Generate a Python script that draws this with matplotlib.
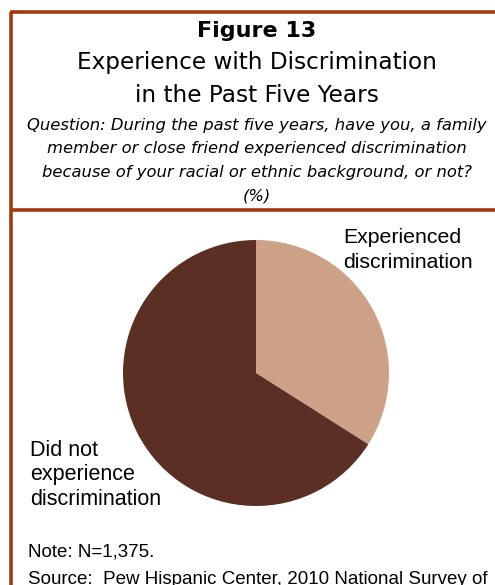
import matplotlib
matplotlib.use("Agg")
import matplotlib.pyplot as plt
from matplotlib.lines import Line2D

plt.rcParams['font.family'] = ['Liberation Sans', 'DejaVu Sans']

# Data
shares = [34, 66]
colors = ["#CDA187", "#5C2F24"]
pct_colors = ["black", "white"]
label_experienced = ["Experienced", "discrimination"]
label_not = ["Did not", "experience", "discrimination"]

title_bold = "Figure 13"
title_lines = ["Experience with Discrimination", "in the Past Five Years"]
question_lines = [
    "Question: During the past five years, have you, a family",
    "member or close friend experienced discrimination",
    "because of your racial or ethnic background, or not?",
    "(%)",
]
note_text = "Note: N=1,375."
source_text = "Source:  Pew Hispanic Center, 2010 National Survey of"

W, H = 495, 585
fig = plt.figure(figsize=(W / 100, H / 100), dpi=100)
fig.patch.set_facecolor("white")

# Overlay axes in pixel coordinates for the frame and text
ov = fig.add_axes([0, 0, 1, 1])
ov.set_xlim(0, W)
ov.set_ylim(H, 0)
ov.axis("off")

border = "#A33A0E"
lw = 2.6
ov.add_line(Line2D([11, 11], [12, H + 5], color=border, lw=lw, solid_capstyle="butt"))
ov.add_line(Line2D([9.5, W + 5], [12, 12], color=border, lw=lw, solid_capstyle="butt"))
ov.add_line(Line2D([9.5, W + 5], [209.5, 209.5], color=border, lw=lw, solid_capstyle="butt"))

head_font = ["DejaVu Sans"]
cx = 257
ov.text(cx, 37, title_bold, fontsize=16, fontweight="bold", family=head_font,
        ha="center", va="baseline")
ov.text(cx, 69.5, title_lines[0], fontsize=16.7, family=head_font,
        ha="center", va="baseline")
ov.text(cx, 101.5, title_lines[1], fontsize=16.7, family=head_font,
        ha="center", va="baseline")
for i, line in enumerate(question_lines):
    ov.text(cx, 130 + i * 23.4, line, fontsize=11.8, fontstyle="italic",
            family=head_font, ha="center", va="baseline")

# Pie
r_px = 133
pcx, pcy = 256, 373
pax = fig.add_axes([(pcx - r_px) / W, 1 - (pcy + r_px) / H, 2 * r_px / W, 2 * r_px / H])
pax.pie(shares, colors=colors, startangle=90, counterclock=False,
        wedgeprops=dict(linewidth=0))
pax.set_xlim(-1, 1)
pax.set_ylim(-1, 1)
pax.set_aspect("equal")
pax.axis("off")

# Percent labels
pct_pos = [(316, 336), (176, 390)]
for v, (x, y), c in zip(shares, pct_pos, pct_colors):
    ov.text(x, y, f"{v}%", fontsize=15, color=c, ha="center", va="baseline")

# Category labels
for i, line in enumerate(label_experienced):
    ov.text(343, 243.3 + i * 24.6, line, fontsize=15.3, ha="left", va="baseline")
for i, line in enumerate(label_not):
    ov.text(30.5, 455.7 + i * 24.7, line, fontsize=15.5, ha="left", va="baseline")

ov.text(28.5, 556.7, note_text, fontsize=13.5, ha="left", va="baseline")
ov.text(28.5, 584, source_text, fontsize=13.5, ha="left", va="baseline")

fig.savefig("out.png", dpi=100)
